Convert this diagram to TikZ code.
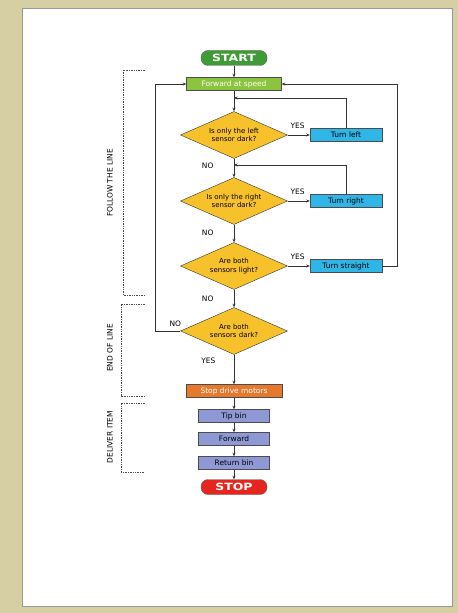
\documentclass[tikz,border=0pt]{standalone}
\usepackage{fontspec}
\setmainfont{DejaVu Sans}
\newfontfamily\headfont[FakeStretch=1.25]{DejaVu Sans}
\usepackage{xcolor}
\usepackage{tikz}
\usetikzlibrary{shapes.geometric, arrows.meta, positioning, calc}

\definecolor{pagebg}{HTML}{D6CFA3}
\definecolor{startgreen}{HTML}{3E9B35}
\definecolor{limegreen}{HTML}{8CC43F}
\definecolor{decyellow}{HTML}{F6C12A}
\definecolor{turncyan}{HTML}{2FB5E6}
\definecolor{motororange}{HTML}{E57A2E}
\definecolor{binblue}{HTML}{8E98D4}
\definecolor{stopred}{HTML}{E5261F}

\begin{document}
\begin{tikzpicture}[
    x=1bp, y=-1bp,
    font=\fontsize{7.5}{8.5}\selectfont,
    terminal/.style={rectangle, rounded corners=7bp, draw=black!60, minimum width=66bp, minimum height=15bp, inner sep=0pt, text=white, font=\headfont\fontsize{10}{11}\selectfont\bfseries},
    decision/.style={diamond, aspect=2.3, draw=black!80, fill=decyellow, minimum width=107bp, minimum height=47bp, inner sep=0pt, align=center, font=\fontsize{7}{8.5}\selectfont},
    action/.style={rectangle, draw=black!70, minimum height=13bp, inner sep=1pt, align=center},
    turnbox/.style={action, fill=turncyan, minimum width=72bp},
    binbox/.style={action, fill=binblue, minimum width=71bp},
    flow/.style={-{Stealth[length=3.5bp,width=3bp]}, draw=black!80, line width=0.6bp},
    answer/.style={font=\fontsize{7.5}{8}\selectfont},
    bracket/.style={densely dotted, draw=black!70, line width=0.7bp},
    stage/.style={rotate=90, font=\fontsize{7.5}{8}\selectfont},
]

% page
\useasboundingbox (0,0) rectangle (458,613);
\fill[pagebg] (0,0) rectangle (458,613);
\draw[fill=white, draw=black!40] (22,8) rectangle (452,606);

% main column
\node[terminal, fill=startgreen] (start) at (234,58) {START};
\node[action, fill=limegreen, minimum width=95bp, text=white] (fwd) at (234,84) {Forward at speed};
\node[decision] (left) at (234,135) {Is only the left\\sensor dark?};
\node[decision] (right) at (234,201) {Is only the right\\sensor dark?};
\node[decision] (light) at (234,266) {Are both\\sensors light?};
\node[decision] (dark) at (234,331) {Are both\\sensors dark?};
\node[action, fill=motororange, minimum width=96bp, text=white] (halt) at (234,391) {Stop drive motors};
\node[binbox] (tip) at (234,416) {Tip bin};
\node[binbox] (fwdbin) at (234,439) {Forward};
\node[binbox] (ret) at (234,463) {Return bin};
\node[terminal, fill=stopred] (stop) at (234,487) {STOP};

% turns
\node[turnbox] (tleft) at (346,135) {Turn left};
\node[turnbox] (tright) at (346,201) {Turn right};
\node[turnbox] (tstraight) at (346,266) {Turn straight};

% joins
\coordinate (j1) at (234,98);
\coordinate (j2) at (234,165);
\coordinate (loopr) at (397,266);
\coordinate (loopl) at (155,331);

% arrows
\draw[flow] (start) -- (fwd);
\draw[flow] (fwd) -- (left);
\draw[flow] (left) -- node[answer, left=17bp, pos=0.4] {NO} (right);
\draw[flow] (right) -- node[answer, left=17bp, pos=0.45] {NO} (light);
\draw[flow] (light) -- node[answer, left=17bp, pos=0.5] {NO} (dark);
\draw[flow] (dark) -- node[answer, left=15bp, pos=0.2] {YES} (halt);
\draw[flow] (halt) -- (tip);
\draw[flow] (tip) -- (fwdbin);
\draw[flow] (fwdbin) -- (ret);
\draw[flow] (ret) -- (stop);

\draw[flow] (left.east) -- node[answer, above, pos=0.45, yshift=3bp] {YES} (tleft.west);
\draw[flow] (right.east) -- node[answer, above, pos=0.45, yshift=3bp] {YES} (tright.west);
\draw[flow] (light.east) -- node[answer, above, pos=0.45, yshift=3bp] {YES} (tstraight.west);

\draw[flow] (tleft.north) |- (j1);
\draw[flow] (tright.north) |- (j2);
\draw[flow] (tstraight.east) -- (loopr) |- (fwd.east);
\draw[flow] (dark.west) -- node[answer, above, pos=0.2, yshift=1bp] {NO} (loopl) |- (fwd.west);

% stages
\draw[bracket] (145,70) -- (123,70) -- (123,295) -- (145,295);
\draw[bracket] (145,304) -- (121,304) -- (121,396) -- (145,396);
\draw[bracket] (145,403) -- (121,403) -- (121,472) -- (145,472);
\node[stage] (follow) at (110,183) {FOLLOW THE LINE};
\node[stage] (eol) at (110,348) {END OF LINE};
\node[stage] (deliver) at (110,437) {DELIVER ITEM};

\end{tikzpicture}
\end{document}
